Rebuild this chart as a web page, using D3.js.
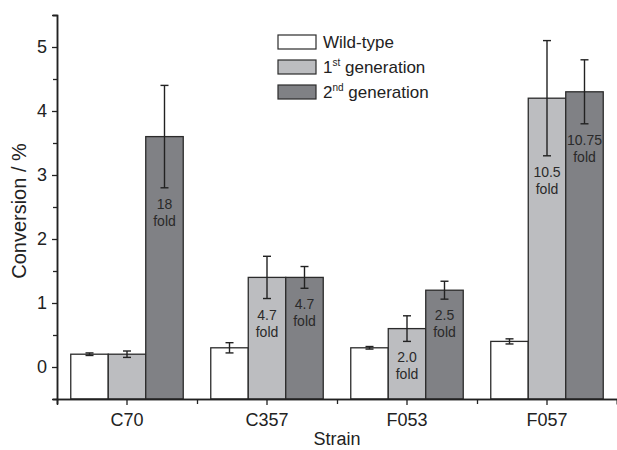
<!DOCTYPE html>
<html><head><meta charset="utf-8">
<script src="https://cdn.jsdelivr.net/npm/d3@7"></script>
<style>body{margin:0;background:#fff}text{font-family:"Liberation Sans",Arial,sans-serif}</style>
</head><body><svg id="c" width="617" height="450"></svg>
<script>
const categories = ["C70","C357","F053","F057"];
const seriesNames = ["Wild-type","1st generation","2nd generation"];
const wildType = [0.2,0.3,0.3,0.4];
const wildTypeErr = [0.02,0.08,0.02,0.04];
const gen1 = [0.2,1.4,0.6,4.2];
const gen1Err = [0.05,0.33,0.2,0.9];
const gen2 = [3.6,1.4,1.2,4.3];
const gen2Err = [0.8,0.17,0.14,0.5];
const gen1Fold = [null,"4.7","2.0","10.5"];
const gen2Fold = ["18","4.7","2.5","10.75"];
const yTicks = [0,1,2,3,4,5];

const colors = ["#ffffff","#bcbdc0","#808185"];
const stroke = "#2b2b2b";
const svg = d3.select("#c");
const x0 = d3.scaleBand().domain(categories).range([57,617]).paddingInner(0).paddingOuter(0);
const x1 = d3.scaleBand().domain([0,1,2]).range([0,x0.bandwidth()]).paddingInner(0).paddingOuter(0.367);
const y = d3.scaleLinear().domain([-0.5,5.5]).range([399,15]);

const vals = [wildType,gen1,gen2], errs=[wildTypeErr,gen1Err,gen2Err], folds=[null,gen1Fold,gen2Fold];
const data=[];
categories.forEach((c,i)=>{for(let s=0;s<3;s++)data.push({c,s,v:vals[s][i],e:errs[s][i],f:folds[s]?folds[s][i]:null});});

const g = svg.append("g");
g.selectAll("rect.bar").data(data).join("rect").attr("class","bar")
 .attr("x",d=>x0(d.c)+x1(d.s)).attr("width",x1.bandwidth())
 .attr("y",d=>y(d.v)).attr("height",d=>y(-0.5)-y(d.v))
 .attr("fill",d=>colors[d.s]).attr("stroke",stroke).attr("stroke-width",1.3);

const cx = d=>x0(d.c)+x1(d.s)+x1.bandwidth()/2;
const eb = g.selectAll("g.err").data(data).join("g").attr("stroke","#222").attr("stroke-width",1.4);
eb.append("line").attr("x1",cx).attr("x2",cx)
 .attr("y1",d=>y(d.v+d.e)).attr("y2",d=>y(d.v-d.e));
[1,-1].forEach(k=>eb.append("line").attr("x1",d=>cx(d)-4).attr("x2",d=>cx(d)+4)
 .attr("y1",d=>y(d.v+k*d.e)).attr("y2",d=>y(d.v+k*d.e)));

const fl = g.selectAll("text.fold").data(data.filter(d=>d.f)).join("text").attr("class","fold")
 .attr("text-anchor","middle").attr("font-size",14).attr("fill","#2a2a2a");
fl.append("tspan").attr("x",cx).attr("y",d=>y(d.v-d.e)+21).text(d=>d.f);
fl.append("tspan").attr("x",cx).attr("y",d=>y(d.v-d.e)+38).text("fold");

// axes
svg.append("g").attr("transform","translate(57,0)")
 .call(d3.axisLeft(y).tickValues(yTicks).tickSize(5).tickPadding(5).tickFormat(d3.format("d")));
svg.append("g").attr("transform","translate(57,0)")
 .call(d3.axisLeft(y).tickValues(d3.range(-0.5,5.51,1)).tickSize(4).tickFormat(""));
svg.append("g").attr("transform","translate(0,399)")
 .call(d3.axisBottom(x0).tickSize(6).tickPadding(8));
svg.append("g").attr("transform","translate(0,399)")
 .call(d3.axisBottom(d3.scaleLinear().domain([0,4]).range([57,617])).tickValues([0,1,2,3,4]).tickSize(5).tickFormat(""));
svg.selectAll(".domain").attr("stroke","#222").attr("stroke-width",1.5);
svg.selectAll(".tick line").attr("stroke","#222").attr("stroke-width",1.3);
svg.selectAll(".tick text").attr("font-size",18).attr("fill","#222").attr("font-family","Liberation Sans, Arial, sans-serif");

svg.append("text").attr("transform","translate(26,211) rotate(-90)").attr("text-anchor","middle")
 .attr("font-size",20).attr("fill","#222").text("Conversion / %");
svg.append("text").attr("x",337).attr("y",445).attr("text-anchor","middle").attr("font-size",18).attr("fill","#222").text("Strain");

// legend
const lg = svg.append("g").attr("transform","translate(278,35)");
seriesNames.forEach((n,i)=>{
  const r = lg.append("g").attr("transform",`translate(0,${i*25})`);
  r.append("rect").attr("width",38).attr("height",14).attr("fill",colors[i]).attr("stroke",stroke).attr("stroke-width",1.2);
  const t = r.append("text").attr("x",45).attr("y",13).attr("font-size",17).attr("fill","#222");
  if(i===0) t.text(n);
  else { const m = n.match(/^(\d)(st|nd) (.*)$/);
    t.append("tspan").text(m[1]);
    t.append("tspan").attr("font-size",10).attr("dy",-7).text(m[2]);
    t.append("tspan").attr("dy",7).text(" "+m[3]); }
});
</script></body></html>
